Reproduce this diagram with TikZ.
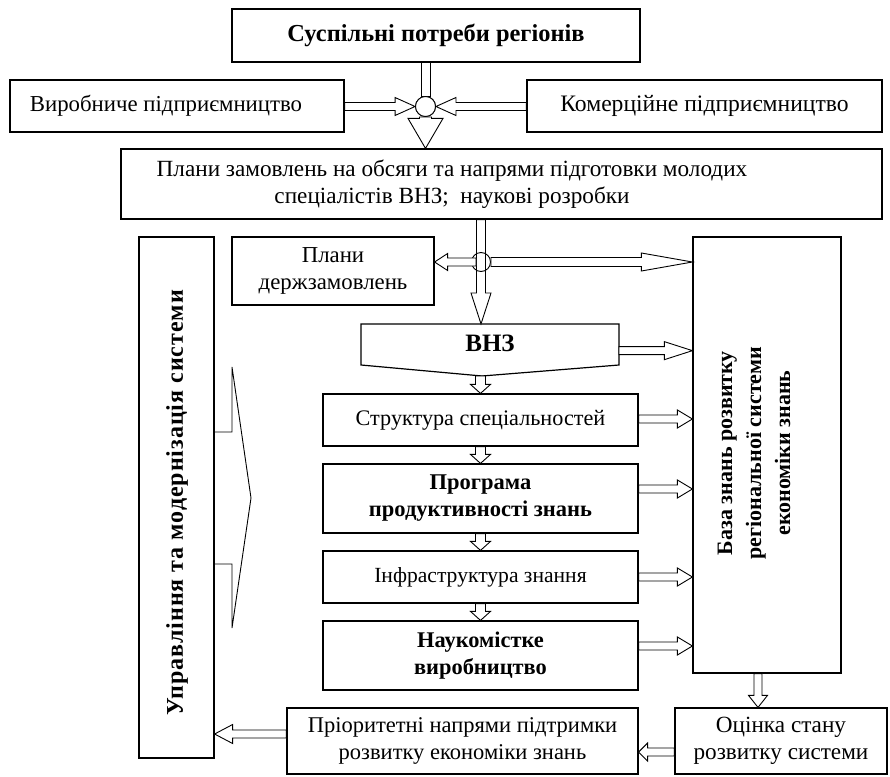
\documentclass[tikz,border=0pt]{standalone}
\usepackage{fontspec}
\setmainfont{Liberation Serif}
\usetikzlibrary{calc}
\newcommand\fs[1]{\fontsize{#1}{27}\selectfont}
\tikzset{
  box/.style={draw, line width=1.2pt, fill=white, inner sep=0pt, align=center,
    font=\fs{22}},
  bbox/.style={box, font=\fs{22}\bfseries},
  rtext/.style={rotate=90, align=center, inner sep=0pt, font=\fontsize{22}{29}\selectfont\bfseries},
  plain/.style={inner sep=0pt, align=center},
  barrowstyle/.style={draw, line width=0.9pt, fill=white, line join=miter},
  junction/.style={circle, draw, line width=0.9pt, inner sep=0pt},
  outline/.style={draw, line width=1.2pt, line join=miter},
}
% block arrow: start, end, shaft half width, head half width, head length
\newcommand\barrow[5]{%
  \path #1 coordinate (bas) #2 coordinate (bae);
  \coordinate (bah) at ($(bae)!#5pt!(bas)$);
  \draw[barrowstyle] ($(bas)!#3pt!90:(bae)$) -- ($(bah)!#3pt!-90:(bas)$)
    -- ($(bah)!#4pt!-90:(bas)$) -- (bae) -- ($(bah)!#4pt!90:(bas)$)
    -- ($(bah)!#3pt!90:(bas)$) -- ($(bas)!#3pt!-90:(bae)$) -- cycle;
}
\begin{document}
\begin{tikzpicture}[x=1pt,y=-1pt]
\useasboundingbox (0,0) rectangle (890,776);

% boxes
\node[bbox, font=\fs{24.4}\bfseries, minimum width=408pt, minimum height=53pt] (T) at (436,35.5) {Суспільні потреби регіонів};
\node[box, font=\fs{22.8}, minimum width=334pt, minimum height=52pt] (L1) at (177,106) {};
\node[plain, font=\fs{22.8}] (L1t) at (166,106) {Виробниче підприємництво};
\node[box, font=\fs{23.6}, minimum width=355pt, minimum height=52pt] (R1) at (704.5,106) {Комерційне підприємництво};
\node[box, minimum width=761pt, minimum height=70pt] (P) at (501.5,184) {};
\node[plain, font=\fs{23.2}] (Pt) at (452,184)
  {Плани замовлень на обсяги та напрями підготовки молодих\\спеціалістів ВНЗ;\ \ наукові розробки};
\node[box, font=\fs{22.8}, minimum width=202pt, minimum height=68pt] (PD) at (333,271) {Плани\\держзамовлень};
\node[box, minimum width=75pt, minimum height=521pt] (U) at (176.5,497.5) {};
\node[rtext, font=\fontsize{24}{29}\selectfont\bfseries\addfontfeatures{LetterSpace=4}] (Ut) at (177,503) {Управління та модернізація системи};
\node[box, minimum width=148pt, minimum height=436pt] (DB) at (767,455) {};
\node[rtext] (DBt) at (754,453) {База знань розвитку\\регіональної системи\\економіки знань};
\node[box, font=\fs{22.2}, minimum width=315pt, minimum height=52pt] (S) at (480.5,420) {Структура спеціальностей};
\node[bbox, font=\fs{22.5}\bfseries, minimum width=315pt, minimum height=69pt] (PR) at (480.5,498.5) {Програма\\продуктивності знань};
\node[box, font=\fs{21.6}, minimum width=315pt, minimum height=52pt] (I) at (480.5,577) {Інфраструктура знання};
\node[bbox, font=\fs{22.4}\bfseries, minimum width=315pt, minimum height=69pt] (N) at (480.5,655.5) {Наукомістке\\виробництво};
\node[box, font=\fs{22.5}, minimum width=351pt, minimum height=66pt] (PRI) at (462.5,741) {Пріоритетні напрями підтримки\\розвитку економіки знань};
\node[box, font=\fs{23.2}, minimum width=212pt, minimum height=66pt] (O) at (781,741) {Оцінка стану\\розвитку системи};

% VNZ pentagon
\coordinate (v1) at (361,324);
\coordinate (v2) at (619,324);
\coordinate (v3) at (619,365);
\coordinate (v4) at (482,376);
\coordinate (v5) at (361,365);
\draw[outline, fill=white] (v1) -- (v2) -- (v3) -- (v4) -- (v5) -- cycle;
\node[inner sep=0pt, font=\fontsize{25}{30}\selectfont\bfseries] (vnz) at (490,343) {ВНЗ};

% bracket chevron on U
\coordinate (k1) at (U.east |- 0,432);
\coordinate (k2) at (232,432);
\coordinate (k3) at (232,367);
\coordinate (k4) at (251,498);
\coordinate (k5) at (232,628);
\coordinate (k6) at (232,564);
\coordinate (k7) at (U.east |- 0,564);
\draw[line width=0.9pt, line join=miter] (k1) -- (k2) -- (k3) -- (k4) -- (k5) -- (k6) -- (k7);

% top junction
\node[junction, minimum size=20pt] (c1) at (425.5,106.5) {};
\draw[barrowstyle] ($(c1 |- T.south)+(-4.5,0)$) rectangle ($(c1.north)+(4.5,0)$);
\barrow{(L1.east |- c1)}{(c1.west)}{4}{9}{20}
\barrow{(R1.west |- c1)}{(c1.east)}{4}{9}{20}
\barrow{(c1.south)}{(c1 |- P.north)}{6}{17.5}{30}
\node[junction, fill=white, minimum size=20pt] (c1b) at (c1) {};

% second junction
\coordinate (c2p) at (481,262);
\barrow{(c2p |- P.south)}{(c2p |- v1)}{4.5}{10}{31}
\node[junction, minimum size=19pt] (c2) at (c2p) {};
\barrow{([xshift=-5pt]c2.center)}{(c2 -| PD.east)}{4}{8.5}{13}
\barrow{(c2.east)}{(c2 -| DB.west)}{4.5}{9}{51}

% chain down
\barrow{(S.north |- v4)}{(S.north)}{5}{10}{9}
\barrow{(S.south)}{(PR.north)}{5}{10}{9}
\barrow{(PR.south)}{(I.north)}{5}{10}{9}
\barrow{(I.south)}{(N.north)}{5}{10}{9}

% arrows to knowledge base
\coordinate (aV) at ($(v2)!0.65!(v3)$);
\barrow{(aV)}{(aV -| DB.west)}{4}{9}{28}
\coordinate (aS) at ([yshift=1pt]S.east);
\barrow{(aS)}{(aS -| DB.west)}{4}{9}{15}
\coordinate (aPR) at ([yshift=9.5pt]PR.east);
\barrow{(aPR)}{(aPR -| DB.west)}{4}{9}{15}
\coordinate (aI) at (I.east);
\barrow{(aI)}{(aI -| DB.west)}{4}{9}{15}
\coordinate (aN) at ([yshift=9.5pt]N.east);
\barrow{(aN)}{(aN -| DB.west)}{4}{9}{15}

% bottom loop
\coordinate (aDB) at ([xshift=-9pt]DB.south);
\barrow{(aDB)}{(aDB |- O.north)}{4}{9.5}{12}
\coordinate (aO) at ([yshift=-11pt]O.west);
\barrow{(aO)}{(aO -| PRI.east)}{4}{9}{9}
\coordinate (aP) at ([yshift=7pt]PRI.west);
\barrow{(aP)}{(aP -| U.east)}{4}{9.5}{18}
\end{tikzpicture}
\end{document}
